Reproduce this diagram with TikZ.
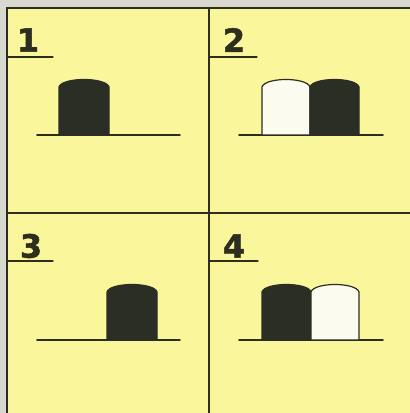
\documentclass[tikz,border=0pt]{standalone}
\usepackage{fontspec}
\setmainfont{DejaVu Sans}
\newfontfamily\sochu{DejaVu Sans Bold}[FakeBold=1.6]
\definecolor{nenxam}{RGB}{216,216,208}
\definecolor{vang}{RGB}{250,246,155}
\definecolor{net}{RGB}{44,46,30}
\definecolor{toi}{RGB}{42,46,36}
\definecolor{sang}{RGB}{251,251,240}
\begin{document}
\begin{tikzpicture}[x=1pt, y=1pt, line cap=round,
    khung/.style={line width=1.6pt, net},
    so/.style={font=\fontsize{32}{32}\sochu, text=net, inner sep=0pt},
    khoitoi/.style={fill=toi, draw=toi, line width=1.2pt},
    khoisang/.style={fill=sang, draw=net, line width=1.2pt}]
    \useasboundingbox (0, 0) rectangle (410, 413);

    % 1. Nền xám và ô vàng
    \fill[nenxam] (0, 0) rectangle (410, 413);
    \fill[vang] (7, 0) rectangle (410, 405);

    % 2. Khung và đường chia bốn ô
    \draw[khung] (7, 0) -- (7, 405) -- (410, 405);
    \draw[khung] (209, 0) -- (209, 405);
    \draw[khung] (7, 200) -- (410, 200);

    % 3. Số thứ tự và gạch dưới
    \node[so] (n1) at (28, 373) {1};
    \node[so] (n2) at (234, 373) {2};
    \node[so] (n3) at (31, 167) {3};
    \node[so] (n4) at (234, 167) {4};
    \draw[khung, line width=1.2pt] (7, 356) -- (53, 356);
    \draw[khung, line width=1.2pt] (209, 356) -- (257, 356);
    \draw[khung, line width=1.2pt] (7, 152) -- (53, 152);
    \draw[khung, line width=1.2pt] (209, 152) -- (258, 152);

    % 4. Ô 1: một khối tối
    \draw[khung] (37, 278) -- (180, 278);
    \draw[khoitoi] (59, 278) -- (59, 326) .. controls (62, 336) and (106, 336) .. (109, 326) -- (109, 278) -- cycle;

    % 5. Ô 2: khối sáng bên trái, khối tối bên phải
    \draw[khung] (239, 278) -- (383, 278);
    \draw[khoisang] (262, 278) -- (262, 326) .. controls (265, 336) and (307, 336) .. (310, 326) -- (310, 278) -- cycle;
    \draw[khoitoi] (310, 278) -- (310, 326) .. controls (313, 336) and (356, 336) .. (359, 326) -- (359, 278) -- cycle;

    % 6. Ô 3: một khối tối lệch phải
    \draw[khung] (37, 73) -- (180, 73);
    \draw[khoitoi] (107, 73) -- (107, 121) .. controls (110, 131) and (154, 131) .. (157, 121) -- (157, 73) -- cycle;

    % 7. Ô 4: khối tối bên trái, khối sáng bên phải
    \draw[khung] (239, 73) -- (383, 73);
    \draw[khoitoi] (262, 73) -- (262, 121) .. controls (265, 131) and (308, 131) .. (311, 121) -- (311, 73) -- cycle;
    \draw[khoisang] (311, 73) -- (311, 121) .. controls (314, 131) and (356, 131) .. (359, 121) -- (359, 73) -- cycle;

\end{tikzpicture}
\end{document}
